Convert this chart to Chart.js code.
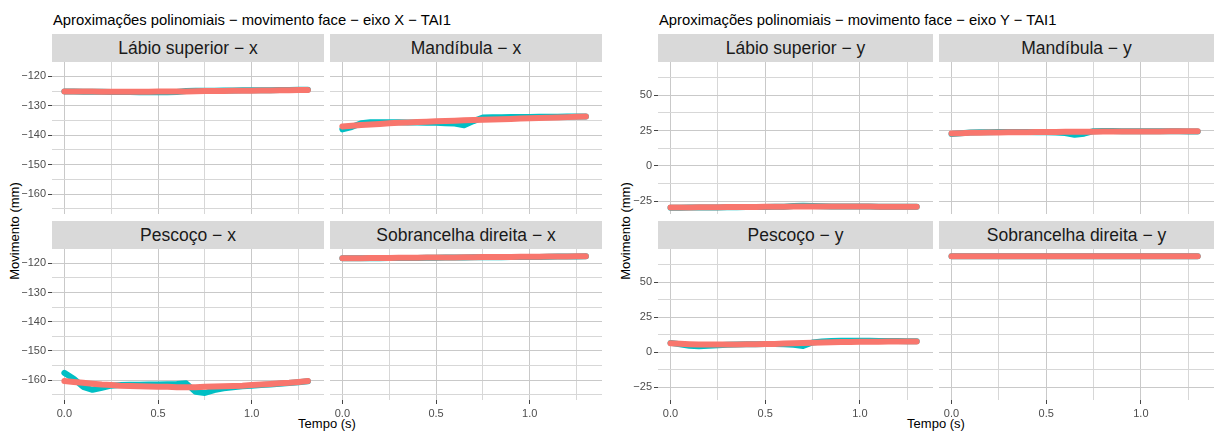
<!DOCTYPE html>
<html lang="pt-BR">
<head>
<meta charset="utf-8">
<title>Aproximações polinomiais - movimento face</title>
<script src="https://cdn.jsdelivr.net/npm/chart.js@4.4.1/dist/chart.umd.min.js"></script>
<style>
  html, body { margin: 0; padding: 0; background: #fff; }
  #figura { position: relative; width: 1214px; height: 437px; overflow: hidden; background: #fff;
            font-family: "Liberation Sans", Arial, Helvetica, sans-serif; }
  .titulo { position: absolute; top: 12px; font-size: 14.8px; line-height: 16px; color: #000; white-space: nowrap; }
  .faixa { position: absolute; height: 28px; background: #d9d9d9; color: #1a1a1a; font-size: 17.5px;
           display: flex; align-items: center; justify-content: center; white-space: nowrap; }
  .eixo-titulo { position: absolute; font-size: 13px; line-height: 14px; color: #000; white-space: nowrap;
                 transform: translate(-50%, -50%); }
  .eixo-titulo.vertical { transform: translate(-50%, -50%) rotate(-90deg); }
  canvas { position: absolute; }
</style>
</head>
<body>
<div id="figura">
  <div class="titulo" style="left:53px">Aproximações polinomiais − movimento face − eixo X − TAI1</div>
  <div class="titulo" style="left:659px">Aproximações polinomiais − movimento face − eixo Y − TAI1</div>
  <div class="eixo-titulo vertical" style="left:15px; top:231px">Movimento (mm)</div>
  <div class="eixo-titulo vertical" style="left:626px; top:231px">Movimento (mm)</div>
  <div class="eixo-titulo" style="left:327px; top:424px">Tempo (s)</div>
  <div class="eixo-titulo" style="left:936px; top:424px">Tempo (s)</div>
</div>
<script>
// Tempo das amostras (s)
const TEMPO = [0, 0.05, 0.1, 0.15, 0.2, 0.25, 0.3, 0.35, 0.4, 0.45, 0.5, 0.55, 0.6, 0.65, 0.7,
               0.75, 0.8, 0.85, 0.9, 0.95, 1.0, 1.05, 1.1, 1.15, 1.2, 1.25, 1.3];

// Eixo X - movimento medido (bruto) e aproximação polinomial (ajuste), em mm
const LABIO_X_BRUTO = [-125.1, -125.15, -125.2, -125.2, -125.25, -125.3, -125.3, -125.3, -125.35, -125.35, -125.35, -125.35, -125.3, -124.95,
                       -124.9, -124.85, -124.85, -124.8, -124.8, -124.75, -124.75, -124.7, -124.7, -124.65, -124.6, -124.55, -124.5];
const LABIO_X_AJUSTE = [-125.1, -125.1, -125.15, -125.15, -125.2, -125.2, -125.2, -125.2, -125.2, -125.2, -125.15, -125.15, -125.1, -125.1,
                        -125.05, -125.0, -124.95, -124.95, -124.9, -124.9, -124.85, -124.8, -124.8, -124.75, -124.7, -124.65, -124.6];

const MANDIBULA_X_BRUTO = [-138.0, -137.2, -135.9, -135.6, -135.6, -135.6, -135.6, -135.7, -135.7, -135.8, -135.8, -135.9, -136.0, -136.6,
                           -135.2, -134.0, -133.9, -133.9, -133.8, -133.8, -133.8, -133.7, -133.7, -133.7, -133.6, -133.6, -133.6];
const MANDIBULA_X_AJUSTE = [-137.0, -136.8, -136.55, -136.35, -136.15, -135.95, -135.8, -135.65, -135.5, -135.4, -135.25, -135.15, -135.05, -134.95,
                            -134.85, -134.75, -134.65, -134.55, -134.45, -134.35, -134.25, -134.15, -134.05, -133.95, -133.85, -133.75, -133.65];

const PESCOCO_X_BRUTO = [-157.5, -159.5, -162.3, -163.3, -162.6, -161.9, -161.7, -161.6, -161.6, -161.5, -161.5, -161.4, -161.3, -161.1,
                         -164.0, -164.4, -163.4, -162.8, -162.4, -162.1, -161.9, -161.7, -161.5, -161.2, -161.0, -160.7, -160.4];
const PESCOCO_X_AJUSTE = [-160.3, -160.6, -160.9, -161.2, -161.5, -161.7, -161.9, -162.0, -162.1, -162.2, -162.3, -162.3, -162.4, -162.4,
                          -162.4, -162.3, -162.2, -162.1, -162.0, -161.9, -161.7, -161.5, -161.3, -161.1, -160.9, -160.6, -160.3];

const SOBRANCELHA_X_BRUTO = [-118.3, -118.3, -118.3, -118.25, -118.25, -118.2, -118.2, -118.2, -118.15, -118.1, -118.1, -118.05, -118.0, -118.0,
                             -117.95, -117.95, -117.9, -117.9, -117.85, -117.85, -117.8, -117.8, -117.75, -117.7, -117.7, -117.65, -117.6];
const SOBRANCELHA_X_AJUSTE = [-118.3, -118.27, -118.24, -118.21, -118.19, -118.16, -118.13, -118.1, -118.08, -118.05, -118.02, -117.99, -117.97, -117.94,
                              -117.91, -117.88, -117.86, -117.83, -117.8, -117.77, -117.75, -117.72, -117.69, -117.66, -117.64, -117.61, -117.58];

// Eixo Y
const LABIO_Y_BRUTO = [-29.8, -29.7, -29.6, -29.6, -29.5, -29.5, -29.4, -29.4, -29.3, -29.3, -29.2, -29.1, -29.0, -28.6,
                       -28.4, -28.5, -28.7, -28.8, -28.8, -28.9, -28.9, -28.9, -29.0, -29.0, -29.0, -29.0, -29.0];
const LABIO_Y_AJUSTE = [-29.6, -29.55, -29.5, -29.45, -29.4, -29.35, -29.3, -29.25, -29.2, -29.15, -29.1, -29.05, -29.0, -28.95,
                        -28.9, -28.9, -28.9, -28.9, -28.9, -28.9, -28.95, -28.95, -29.0, -29.0, -29.0, -29.05, -29.1];

const MANDIBULA_Y_BRUTO = [22.6, 23.2, 23.6, 23.8, 23.9, 24.0, 24.0, 24.0, 24.0, 23.9, 23.8, 23.6, 23.3, 22.0,
                           22.8, 24.6, 24.7, 24.7, 24.6, 24.6, 24.5, 24.5, 24.5, 24.5, 24.5, 24.4, 24.4];
const MANDIBULA_Y_AJUSTE = [23.0, 23.2, 23.4, 23.5, 23.6, 23.7, 23.8, 23.85, 23.9, 23.95, 24.0, 24.05, 24.1, 24.15,
                            24.2, 24.25, 24.3, 24.3, 24.35, 24.4, 24.4, 24.45, 24.45, 24.5, 24.5, 24.5, 24.55];

const PESCOCO_Y_BRUTO = [6.6, 5.6, 4.6, 4.2, 4.6, 5.0, 5.3, 5.5, 5.6, 5.7, 5.8, 5.8, 5.6, 5.2,
                         4.4, 6.9, 7.6, 7.9, 8.1, 8.2, 8.2, 8.1, 8.0, 7.9, 7.9, 7.8, 7.8];
const PESCOCO_Y_AJUSTE = [6.4, 6.0, 5.7, 5.5, 5.4, 5.4, 5.4, 5.5, 5.6, 5.7, 5.8, 5.9, 6.1, 6.3,
                          6.5, 6.7, 6.9, 7.0, 7.2, 7.3, 7.4, 7.5, 7.5, 7.6, 7.6, 7.6, 7.6];

const SOBRANCELHA_Y_BRUTO = [68.5, 68.5, 68.6, 68.6, 68.6, 68.6, 68.6, 68.6, 68.6, 68.6, 68.6, 68.6, 68.6, 68.6,
                             68.6, 68.6, 68.6, 68.6, 68.6, 68.6, 68.6, 68.6, 68.6, 68.6, 68.6, 68.6, 68.6];
const SOBRANCELHA_Y_AJUSTE = [68.6, 68.6, 68.6, 68.6, 68.6, 68.6, 68.6, 68.6, 68.6, 68.6, 68.6, 68.6, 68.6, 68.6,
                              68.6, 68.6, 68.6, 68.6, 68.6, 68.6, 68.6, 68.6, 68.6, 68.6, 68.6, 68.6, 68.6];

// Marcas dos eixos (maiores têm rótulo, menores só linha de grade)
const TEMPO_MAIORES = [0, 0.5, 1.0];
const TEMPO_MENORES = [0.25, 0.75, 1.25];
const EIXO_X_MAIORES = [-160, -150, -140, -130, -120];
const EIXO_X_MENORES = [-165, -155, -145, -135, -125];
const EIXO_Y_MAIORES = [-25, 0, 25, 50];
const EIXO_Y_MENORES = [-12.5, 12.5, 37.5, 62.5];

const CIANO = '#00BFC4';
const SALMAO = '#F8766D';

Chart.defaults.font.family = '"Liberation Sans", Arial, Helvetica, sans-serif';

const figura = document.getElementById('figura');

// junta tempo e valores em pontos {x, y}
function pares(valores) {
    return TEMPO.map((t, i) => ({ x: t, y: valores[i] }));
}

function marcas(maiores, menores) {
    return maiores.concat(menores).sort((a, b) => a - b).map(v => ({ value: v }));
}

// formata com o sinal de menos tipográfico
function rotuloNumero(v, casas) {
    const txt = casas ? Math.abs(v).toFixed(casas) : String(Math.abs(v));
    return v < 0 ? '\u2212' + txt : txt;
}

function corGrade(maiores) {
    return ctx => (ctx.tick && maiores.includes(ctx.tick.value)) ? '#c9c9c9' : '#d7d7d7';
}

function criarFaixa(texto, x, y, largura) {
    const div = document.createElement('div');
    div.className = 'faixa';
    div.style.left = x + 'px';
    div.style.top = y + 'px';
    div.style.width = largura + 'px';
    div.textContent = texto;
    figura.appendChild(div);
}

function criarPainel(cfg) {
    const larguraEixoY = cfg.rotulosY ? 30 : 0;
    const alturaEixoX = cfg.rotulosX ? 30 : 0;

    criarFaixa(cfg.titulo, cfg.x, cfg.y - 28, cfg.largura);

    const canvas = document.createElement('canvas');
    canvas.width = cfg.largura + larguraEixoY;
    canvas.height = cfg.altura + alturaEixoX;
    canvas.style.left = (cfg.x - larguraEixoY) + 'px';
    canvas.style.top = cfg.y + 'px';
    figura.appendChild(canvas);

    const linha = {
        showLine: true,
        borderWidth: 6,
        pointRadius: 0,
        borderCapStyle: 'round',
        borderJoinStyle: 'round',
        tension: 0,
        clip: false
    };

    new Chart(canvas, {
        type: 'scatter',
        data: {
            datasets: [
                Object.assign({ data: pares(cfg.ajuste), borderColor: SALMAO, backgroundColor: SALMAO, order: 0 }, linha),
                Object.assign({ data: pares(cfg.bruto), borderColor: CIANO, backgroundColor: CIANO, order: 1 }, linha)
            ]
        },
        options: {
            responsive: false,
            animation: false,
            devicePixelRatio: 1,
            layout: { padding: 0 },
            plugins: { legend: { display: false }, tooltip: { enabled: false } },
            scales: {
                x: {
                    type: 'linear',
                    min: -0.066,
                    max: 1.386,
                    afterBuildTicks: s => { s.ticks = marcas(TEMPO_MAIORES, TEMPO_MENORES); },
                    afterFit: s => { s.height = alturaEixoX; s.paddingLeft = 0; s.paddingRight = 0; },
                    border: { display: false },
                    grid: {
                        color: corGrade(TEMPO_MAIORES),
                        lineWidth: 1,
                        drawTicks: cfg.rotulosX,
                        tickLength: 4,
                        tickColor: ctx => (ctx.tick && TEMPO_MAIORES.includes(ctx.tick.value)) ? '#444' : 'rgba(0,0,0,0)'
                    },
                    ticks: {
                        display: cfg.rotulosX,
                        autoSkip: false,
                        maxRotation: 0,
                        padding: 3,
                        color: '#4d4d4d',
                        font: { size: 11 },
                        callback: v => TEMPO_MAIORES.includes(v) ? v.toFixed(1) : ''
                    }
                },
                y: {
                    type: 'linear',
                    min: cfg.yMin,
                    max: cfg.yMax,
                    afterBuildTicks: s => { s.ticks = marcas(cfg.yMaiores, cfg.yMenores); },
                    afterFit: s => { s.width = larguraEixoY; s.paddingTop = 0; s.paddingBottom = 0; },
                    border: { display: false },
                    grid: {
                        color: corGrade(cfg.yMaiores),
                        lineWidth: 1,
                        drawTicks: cfg.rotulosY,
                        tickLength: 4,
                        tickColor: ctx => (ctx.tick && cfg.yMaiores.includes(ctx.tick.value)) ? '#444' : 'rgba(0,0,0,0)'
                    },
                    ticks: {
                        display: cfg.rotulosY,
                        autoSkip: false,
                        padding: 2,
                        color: '#4d4d4d',
                        font: { size: 11 },
                        callback: v => cfg.yMaiores.includes(v) ? rotuloNumero(v) : ''
                    }
                }
            }
        }
    });
}

// limites e marcas de cada gráfico
const eixoX = { yMin: -166.8, yMax: -115.1, yMaiores: EIXO_X_MAIORES, yMenores: EIXO_X_MENORES };
const eixoY = { yMin: -34.2, yMax: 73.7, yMaiores: EIXO_Y_MAIORES, yMenores: EIXO_Y_MENORES };

const paineis = [
    { titulo: 'Lábio superior − x', x: 52, y: 62, largura: 272, altura: 152, rotulosY: true, rotulosX: false, bruto: LABIO_X_BRUTO, ajuste: LABIO_X_AJUSTE, ...eixoX },
    { titulo: 'Mandíbula − x', x: 330, y: 62, largura: 272, altura: 152, rotulosY: false, rotulosX: false, bruto: MANDIBULA_X_BRUTO, ajuste: MANDIBULA_X_AJUSTE, ...eixoX },
    { titulo: 'Pescoço − x', x: 52, y: 249, largura: 272, altura: 151, rotulosY: true, rotulosX: true, bruto: PESCOCO_X_BRUTO, ajuste: PESCOCO_X_AJUSTE, ...eixoX },
    { titulo: 'Sobrancelha direita − x', x: 330, y: 249, largura: 272, altura: 151, rotulosY: false, rotulosX: true, bruto: SOBRANCELHA_X_BRUTO, ajuste: SOBRANCELHA_X_AJUSTE, ...eixoX },

    { titulo: 'Lábio superior − y', x: 658, y: 62, largura: 275, altura: 152, rotulosY: true, rotulosX: false, bruto: LABIO_Y_BRUTO, ajuste: LABIO_Y_AJUSTE, ...eixoY },
    { titulo: 'Mandíbula − y', x: 939, y: 62, largura: 275, altura: 152, rotulosY: false, rotulosX: false, bruto: MANDIBULA_Y_BRUTO, ajuste: MANDIBULA_Y_AJUSTE, ...eixoY },
    { titulo: 'Pescoço − y', x: 658, y: 249, largura: 275, altura: 151, rotulosY: true, rotulosX: true, bruto: PESCOCO_Y_BRUTO, ajuste: PESCOCO_Y_AJUSTE, ...eixoY },
    { titulo: 'Sobrancelha direita − y', x: 939, y: 249, largura: 275, altura: 151, rotulosY: false, rotulosX: true, bruto: SOBRANCELHA_Y_BRUTO, ajuste: SOBRANCELHA_Y_AJUSTE, ...eixoY }
];

paineis.forEach(criarPainel);
</script>
</body>
</html>
